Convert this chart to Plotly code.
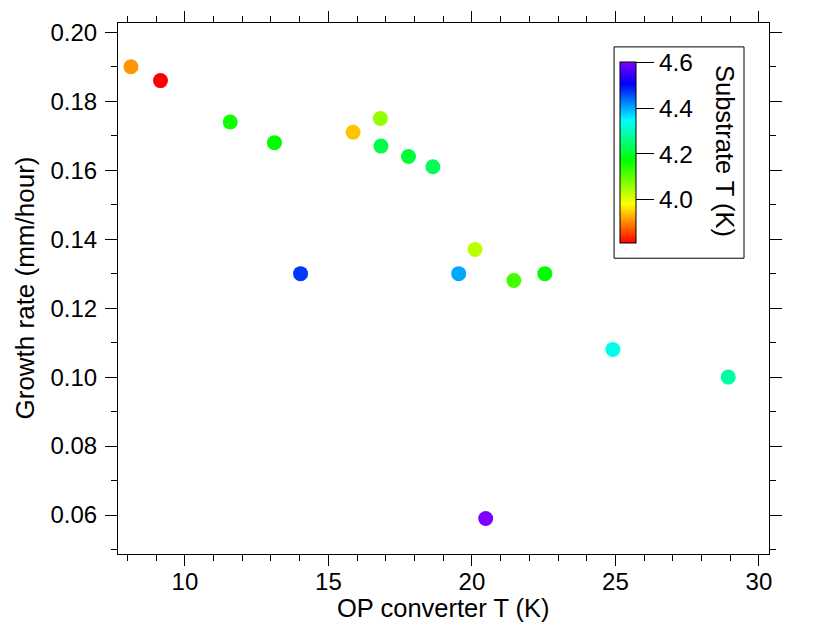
import plotly.graph_objects as go

# data
op_converter_T = [8.12, 9.15, 11.58, 13.12, 14.03, 15.86, 16.81, 16.83, 17.79, 18.64,
                  19.54, 20.11, 20.48, 21.46, 22.54, 24.91, 28.93]
growth_rate = [0.190, 0.186, 0.174, 0.168, 0.130, 0.171, 0.175, 0.167, 0.164, 0.161,
               0.130, 0.137, 0.059, 0.128, 0.130, 0.108, 0.100]
substrate_T = [3.91, 3.81, 4.16, 4.17, 4.47, 3.94, 4.06, 4.22, 4.21, 4.23,
               4.40, 4.03, 4.60, 4.12, 4.17, 4.33, 4.28]
cbar_ticks = [4.0, 4.2, 4.4, 4.6]

# rainbow-ish colour table (red -> yellow -> green -> cyan -> blue -> purple)
rainbow = [[0.0, "#ff0000"], [0.215, "#ffff00"], [0.456, "#00ff00"],
           [0.677, "#00ffff"], [0.88, "#0000ff"], [1.0, "#8000ff"]]

font = "Liberation Sans, Arial, Helvetica, sans-serif"

fig = go.Figure()
fig.add_trace(go.Scatter(
    x=op_converter_T, y=growth_rate, mode="markers",
    marker=dict(size=15, color=substrate_T, colorscale=rainbow,
                cmin=3.81, cmax=4.6, line=dict(width=0),
                colorbar=dict(
                    x=0.771, xanchor="left", y=0.926, yanchor="top",
                    lenmode="pixels", len=181, thicknessmode="pixels", thickness=16,
                    xpad=0, ypad=0, bgcolor="rgba(0,0,0,0)", borderwidth=0,
                    outlinecolor="black", outlinewidth=1,
                    ticks="outside", ticklen=18, tickcolor="black", tickwidth=1,
                    tickvals=cbar_ticks, ticktext=["4.0", "4.2", "4.4", "4.6"],
                    tickfont=dict(family=font, size=24.5, color="black"))),
    showlegend=False))

# white box behind the colour bar
fig.add_shape(type="rect", xref="paper", yref="paper",
              x0=0.762, x1=0.9616, y0=0.557, y1=0.955,
              line=dict(color="black", width=1), fillcolor="white", layer="below")

fig.add_annotation(text="Substrate T (K)", xref="paper", yref="paper",
                   x=(725 - 118) / 651, y=(554 - 151) / 531, showarrow=False,
                   xanchor="center", yanchor="middle",
                   textangle=90, font=dict(family=font, size=25.5, color="black"))

# axis titles as annotations so they sit where the reference has them
fig.add_annotation(text="OP converter T (K)", xref="paper", yref="paper",
                   x=(443 - 118) / 651, y=(554 - 608) / 531, showarrow=False,
                   xanchor="center", yanchor="middle",
                   font=dict(family=font, size=25.5, color="black"))
fig.add_annotation(text="Growth rate (mm/hour)", xref="paper", yref="paper",
                   x=(24 - 118) / 651, y=0.5, showarrow=False,
                   xanchor="center", yanchor="middle", textangle=-90,
                   font=dict(family=font, size=26, color="black"))

axis_style = dict(showline=True, linecolor="black", linewidth=1, mirror="ticks",
                  ticks="outside", tickcolor="black", tickwidth=1,
                  showgrid=False, zeroline=False, automargin=False,
                  tickfont=dict(family=font, size=24, color="black"))

fig.update_xaxes(range=[7.67, 30.35], dtick=5, tick0=0, ticklen=11, ticklabelstandoff=-5,
                 minor=dict(dtick=1, ticks="outside", ticklen=6, tickcolor="black"),
                 **axis_style)
fig.update_yaxes(range=[0.0487, 0.2027], dtick=0.02, tick0=0, tickformat=".2f",
                 ticklen=12, ticklabelstandoff=3,
                 minor=dict(dtick=0.01, ticks="outside", ticklen=6, tickcolor="black"),
                 **axis_style)

# page body keeps its 8px margin, so the figure is 8px smaller than the window
fig.update_layout(width=822, height=626, margin=dict(l=110, r=61, t=15, b=80),
                  plot_bgcolor="white", paper_bgcolor="white",
                  font=dict(family=font, size=22, color="black"))

fig.write_html("out.html")
